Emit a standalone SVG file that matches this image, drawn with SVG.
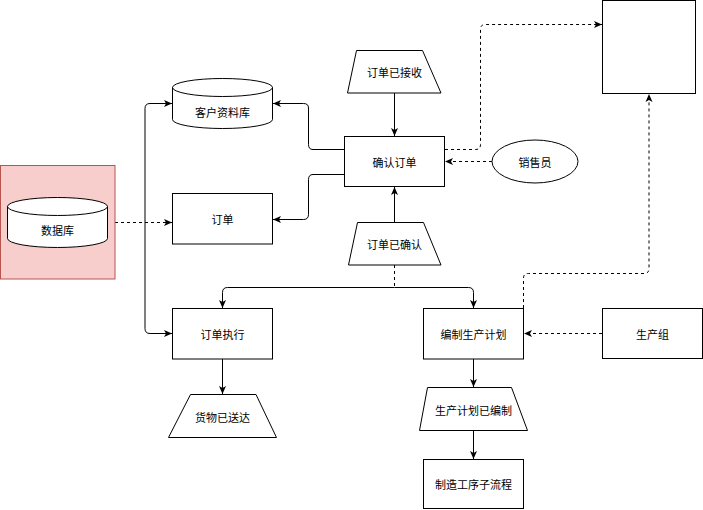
<svg xmlns="http://www.w3.org/2000/svg" width="703" height="510" viewBox="0 0 703 510">
<style>
.n{fill:#fff;stroke:#000;stroke-width:1}
.t{font-family:"Noto Sans CJK SC","Noto Sans",sans-serif;font-size:11px;fill:#000;text-anchor:middle;dominant-baseline:central}
.e{fill:none;stroke:#000;stroke-width:1}
.d{stroke-dasharray:3 3}
</style>
<defs>
<marker id="a" markerUnits="userSpaceOnUse" markerWidth="10" markerHeight="8" refX="9" refY="4" orient="auto-start-reverse">
<path d="M1,0.5 L9,4 L1,7.5 L3,4 Z" fill="#000"/>
</marker>
</defs>
<g id="connectors">
<path class="e" d="M344,149.5 L313,149.5 Q308.5,149.5 308.5,144.5 L308.5,108 Q308.5,103.5 303.5,103.5 L273,103.5" marker-end="url(#a)"/>
<path class="e" d="M344,174.5 L313,174.5 Q308.5,174.5 308.5,179.5 L308.5,214.5 Q308.5,219.5 303.5,219.5 L273,219.5" marker-end="url(#a)"/>
<path class="e" d="M172,103.5 L150,103.5 Q145,103.5 145,108.5 L145,328.5 Q145,333.5 150,333.5 L172,333.5" marker-start="url(#a)" marker-end="url(#a)"/>
<path class="e d" d="M115,222.5 L172,222.5" marker-end="url(#a)"/>
<path class="e" d="M394.5,93 L394.5,136" marker-end="url(#a)"/>
<path class="e" d="M394.5,222 L394.5,187" marker-end="url(#a)"/>
<path class="e d" d="M492,161.5 L445,161.5" marker-end="url(#a)"/>
<path class="e d" d="M445,149.5 L475.5,149.5 Q480.5,149.5 480.5,144.5 L480.5,29 Q480.5,24.5 485.5,24.5 L602,24.5" marker-end="url(#a)"/>
<path class="e d" d="M394.5,265 L394.5,287.5"/>
<path class="e" d="M394.5,287.5 L227.5,287.5 Q222.5,287.5 222.5,292.5 L222.5,308" marker-end="url(#a)"/>
<path class="e" d="M394.5,287.5 L468.5,287.5 Q473.5,287.5 473.5,292.5 L473.5,308" marker-end="url(#a)"/>
<path class="e d" d="M523.5,308 L523.5,278 Q523.5,273.5 528.5,273.5 L644,273.5 Q649,273.5 649,268.5 L649,94" marker-end="url(#a)"/>
<path class="e d" d="M602,333.5 L524,333.5" marker-end="url(#a)"/>
<path class="e" d="M222.5,359 L222.5,394" marker-end="url(#a)"/>
<path class="e" d="M473.5,359 L473.5,387" marker-end="url(#a)"/>
<path class="e" d="M473.5,431 L473.5,459" marker-end="url(#a)"/>
</g>
<g id="db-container">
<rect x="0.5" y="165.5" width="114.5" height="113.5" fill="#f8cecc" stroke="#b85450"/>
</g>
<g id="db">
<path class="n" d="M7.5,206.5 A50,9 0 0 1 107.5,206.5 L107.5,238.5 A50,9 0 0 1 7.5,238.5 Z"/>
<path class="e" d="M7.5,206.5 A50,9 0 0 0 107.5,206.5"/>
<text class="t" x="57.5" y="230">数据库</text>
</g>
<g id="customer-db">
<path class="n" d="M172.5,87.5 A50,9 0 0 1 272.5,87.5 L272.5,119.5 A50,9 0 0 1 172.5,119.5 Z"/>
<path class="e" d="M172.5,87.5 A50,9 0 0 0 272.5,87.5"/>
<text class="t" x="222.5" y="112">客户资料库</text>
</g>
<g id="order">
<rect class="n" x="172.5" y="193.5" width="100" height="50.5"/>
<text class="t" x="222.5" y="219">订单</text>
</g>
<g id="confirm-order">
<rect class="n" x="344.5" y="136.5" width="100" height="50"/>
<text class="t" x="394.5" y="162">确认订单</text>
</g>
<g id="order-received">
<polygon class="n" points="356.5,50.5 422.5,50.5 441,93 347.5,93"/>
<text class="t" x="394.5" y="72">订单已接收</text>
</g>
<g id="order-confirmed">
<polygon class="n" points="357.5,222.5 423.5,222.5 441,265 348.5,265"/>
<text class="t" x="394.5" y="244">订单已确认</text>
</g>
<g id="salesperson">
<ellipse class="n" cx="535" cy="161.5" rx="43" ry="21.5"/>
<text class="t" x="535" y="161.5">销售员</text>
</g>
<g id="blank-box">
<rect class="n" x="602.5" y="0.5" width="93" height="93"/>
</g>
<g id="order-exec">
<rect class="n" x="172.5" y="308.5" width="100" height="50.5"/>
<text class="t" x="222.5" y="334">订单执行</text>
</g>
<g id="production-plan">
<rect class="n" x="423.5" y="308.5" width="100" height="50.5"/>
<text class="t" x="473.5" y="334">编制生产计划</text>
</g>
<g id="production-group">
<rect class="n" x="602.5" y="308.5" width="100" height="50"/>
<text class="t" x="652.5" y="333.5">生产组</text>
</g>
<g id="goods-delivered">
<polygon class="n" points="190.5,394.5 256,394.5 276.5,437.5 168.5,437.5"/>
<text class="t" x="222.5" y="416.5">货物已送达</text>
</g>
<g id="plan-compiled">
<polygon class="n" points="427.5,387.5 511.5,387.5 527.5,430.5 419.5,430.5"/>
<text class="t" x="473.5" y="410">生产计划已编制</text>
</g>
<g id="manufacturing">
<rect class="n" x="423.5" y="459.5" width="100" height="49"/>
<text class="t" x="473.5" y="484">制造工序子流程</text>
</g>
</svg>
